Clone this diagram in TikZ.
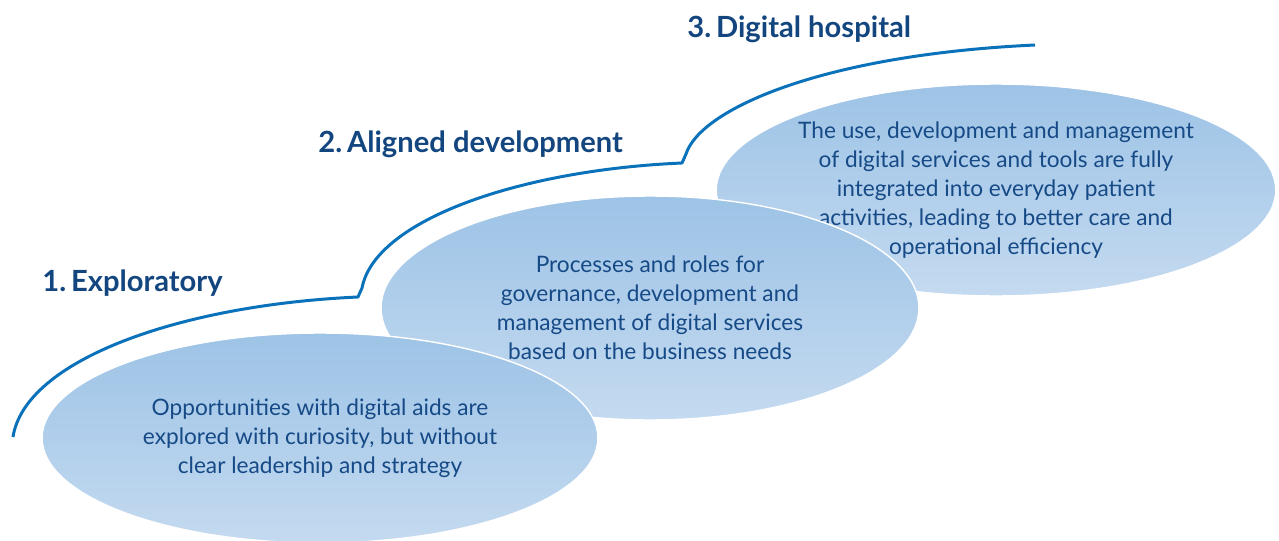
\documentclass[tikz,border=0pt]{standalone}
\usepackage{fontspec}
\setmainfont{Lato}
\usetikzlibrary{shapes.geometric}

\definecolor{titleblue}{HTML}{13467F}
\definecolor{textblue}{HTML}{164A86}
\definecolor{lineblue}{HTML}{0A72BA}
\definecolor{ellipsetop}{HTML}{9DC3E6}
\definecolor{ellipsebottom}{HTML}{C4DAF0}

\begin{document}
\begin{tikzpicture}[x=0.02cm, y=-0.02cm,
	stage/.style={ellipse, draw=white, line width=0.8pt, top color=ellipsetop, bottom color=ellipsebottom,
		inner sep=0pt, text=textblue, align=center, font=\fontsize{12.9}{16.5}\selectfont},
	stagetitle/.style={anchor=base west, inner sep=0pt, text=titleblue, font=\fontsize{16.6}{19}\selectfont\bfseries},
	stepline/.style={draw=lineblue, line width=1.7pt, line join=round}]
		
		\useasboundingbox (0,0) rectangle (1279,541);
		
		%stages, back to front
		\node [stage, minimum width=11.12cm, minimum height=4.24cm] (hospital) at (996,190)
			{The use, development and management\\ of digital services and tools are fully\\ integrated into everyday patient\\ activities, leading to better care and\\ operational efficiency};
		\node [stage, minimum width=10.76cm, minimum height=4.48cm] (aligned) at (650,308)
			{Processes and roles for\\ governance, development and\\ management of digital services\\ based on the business needs};
		\node [stage, minimum width=11.12cm, minimum height=4.2cm] (exploratory) at (320,438)
			{Opportunities with digital aids are\\ explored with curiosity, but without\\ clear leadership and strategy};
		
		%steps
		\coordinate (step 0) at (13,437);
		\coordinate (step 1) at (358,297);
		\coordinate (step 2) at (682,163);
		\coordinate (step 3) at (1035,45);
		\draw [stepline] (step 0) .. controls (25,360) and (180,305) .. (step 1)
			-- (362,288) .. controls (375,220) and (520,170) .. (step 2)
			-- (686,154) .. controls (700,110) and (820,55) .. (step 3);
		
		%titles
		\node [stagetitle] (title 1) at (42,291) {1.\,Exploratory};
		\node [stagetitle] (title 2) at (318,152) {2.\,Aligned development};
		\node [stagetitle] (title 3) at (687,37) {3.\,Digital hospital};
	\end{tikzpicture}
\end{document}
